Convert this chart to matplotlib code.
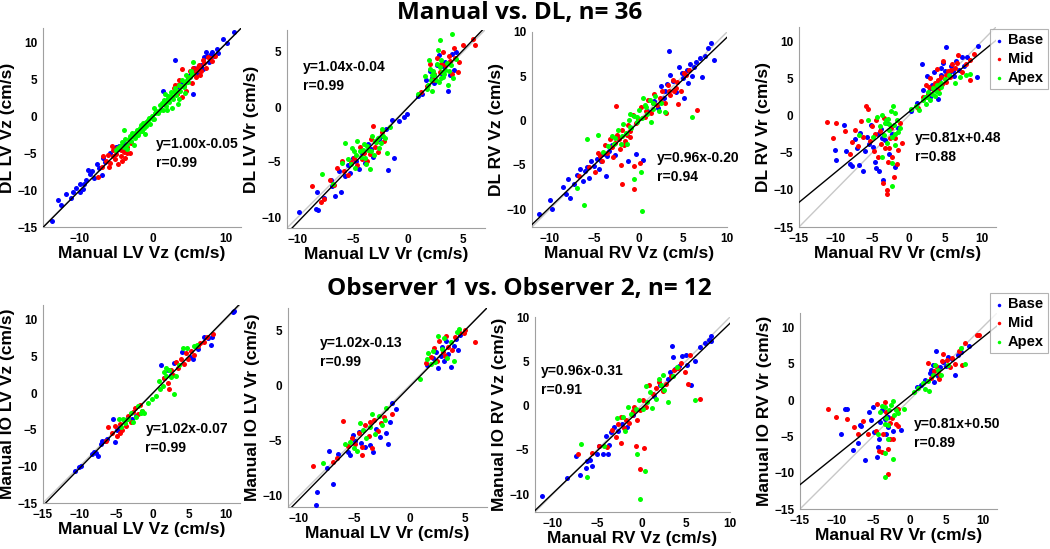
import matplotlib
matplotlib.use('Agg')
import matplotlib.pyplot as plt
import numpy as np

# ---- data (x = manual, y = DL / observer 2) ----
titles = ['Manual vs. DL, n= 36', 'Observer 1 vs. Observer 2, n= 12']
xlabels = ['Manual LV Vz (cm/s)', 'Manual LV Vr (cm/s)', 'Manual RV Vz (cm/s)', 'Manual RV Vr (cm/s)',
           'Manual LV Vz (cm/s)', 'Manual LV Vr (cm/s)', 'Manual RV Vz (cm/s)', 'Manual RV Vr (cm/s)']
ylabels = ['DL LV Vz (cm/s)', 'DL LV Vr (cm/s)', 'DL RV Vz (cm/s)', 'DL RV Vr (cm/s)',
           'Manual IO LV Vz (cm/s)', 'Manual IO LV Vr (cm/s)', 'Manual IO RV Vz (cm/s)', 'Manual IO RV Vr (cm/s)']
fit_slope = [1.00, 1.04, 0.96, 0.81, 1.02, 1.02, 0.96, 0.81]
fit_icpt = [-0.05, -0.04, -0.20, 0.48, -0.07, -0.13, -0.31, 0.50]
r_vals = [0.99, 0.99, 0.94, 0.88, 0.99, 0.99, 0.91, 0.89]
regions = ['Base', 'Mid', 'Apex']

lvvz_dl_base = [(-13.8,-14.2),(-12.9,-11.4),(-12.6,-12.0),(-11.2,-11.0),(-10.9,-10.2),(-10.5,-9.7),(-10.0,-9.1),(-9.6,-9.9),
    (-9.2,-8.6),(-8.9,-7.3),(-8.6,-7.8),(-8.3,-7.4),(-7.6,-6.4),(-7.3,-7.0),(-6.8,-5.6),(-6.5,-6.2),(-5.8,-4.9),(-5.1,-4.2),
    (-4.6,-4.0),(-4.1,-3.6),(-3.8,-4.3),(-2.5,-2.6),(1.4,3.5),(2.1,2.4),(3.0,7.7),(3.4,3.6),(4.0,4.6),(4.8,5.2),(5.4,3.0),
    (5.6,6.6),(6.1,5.8),(6.5,7.0),(6.9,8.0),(7.2,8.8),(7.6,7.4),(7.9,8.5),(8.3,8.2),(8.7,9.2),(8.9,8.6),(9.6,10.5),
    (10.1,10.0),(11.0,11.5),(-7.0,-8.0),(-9.9,-10.3),(-11.8,-10.5),(-8.0,-8.4),(-9.4,-9.2),(7.4,8.2),(8.1,8.8),(6.8,6.5),
    (5.0,5.6)]
lvvz_dl_mid = [(-7.5,-8.2),(-7.0,-6.9),(-6.4,-6.0),(-6.1,-5.2),(-5.8,-6.3),(-5.5,-4.6),(-5.2,-5.8),(-5.0,-5.1),(-4.8,-6.4),
    (-4.6,-4.4),(-4.4,-5.4),(-4.2,-6.0),(-4.0,-4.8),(-3.8,-5.6),(-3.5,-4.2),(-3.2,-5.0),(-3.0,-3.6),(-5.6,-4.0),(-6.8,-5.4),
    (2.6,2.6),(3.0,4.2),(3.3,3.1),(3.6,5.0),(3.9,2.7),(4.2,4.1),(4.5,3.4),(4.8,5.3),(5.0,6.1),(5.3,4.5),(5.5,6.6),(5.8,5.4),
    (6.0,6.3),(6.3,7.0),(6.5,6.1),(6.8,7.6),(7.2,6.6),(7.5,8.0),(8.0,7.5),(8.4,8.2),(2.9,3.8),(4.0,6.5),(6.4,5.6),
    (-6.0,-6.8),(-5.4,-5.3),(-4.9,-4.3),(-4.3,-4.6),(-3.6,-4.9),(3.4,4.3),(4.6,4.8),(5.6,5.9),(6.2,6.7),(7.0,7.3),(7.8,7.9)]
lvvz_dl_apex = [(-4.5,-4.0),(-4.2,-3.5),(-3.8,-3.0),(-3.5,-4.4),(-3.2,-2.6),(-3.0,-3.3),(-2.8,-2.2),(-2.5,-2.9),(-2.2,-1.8),
    (-2.0,-2.5),(-1.8,-1.5),(-1.5,-2.0),(-1.3,-0.9),(-1.0,-1.3),(-0.7,-0.5),(-0.4,-1.0),(-0.2,0.1),(0.2,-0.3),(0.4,0.8),
    (0.7,0.4),(1.0,1.5),(1.3,0.9),(1.5,2.2),(1.8,1.4),(2.0,2.8),(2.2,1.9),(2.5,3.3),(2.7,2.4),(3.0,3.9),(3.2,2.9),(3.5,4.3),
    (3.7,3.5),(4.0,5.0),(4.2,4.0),(4.5,5.6),(4.8,4.7),(5.2,6.2),(5.5,7.4),(2.6,1.1),(3.4,1.7),(-3.9,-1.9),(-5.0,-4.6),
    (-2.6,-3.9),(1.6,3.0),(0.1,1.2),(-1.1,-2.4),(-3.6,-3.8),(-3.3,-3.0),(-2.9,-2.7),(-2.4,-2.2),(-1.9,-2.1),(-1.6,-1.2),
    (-1.2,-1.6),(-0.9,-0.7),(-0.5,-0.2),(0.0,-0.4),(0.3,0.4),(0.9,0.9),(1.2,1.8),(1.7,1.9),(2.1,2.3),(2.4,2.8),(2.9,3.3),
    (3.3,3.4),(3.8,4.1),(4.3,4.6),(4.6,5.0),(5.0,5.4),(5.3,5.8),(-4.8,-4.3),(-4.0,-4.2),(1.9,0.9),(3.6,2.3),(4.4,3.2)]

lvvr_dl_base = [(-9.9,-9.5),(-8.4,-9.3),(-8.2,-9.4),(-8.3,-7.7),(-7.6,-8.3),(-7.0,-6.6),(-6.9,-7.2),(-6.6,-8.1),(-6.3,-5.8),
    (-6.1,-7.7),(-5.5,-5.3),(-5.3,-6.0),(-5.0,-4.6),(-4.5,-5.6),(-4.2,-4.2),(-3.9,-5.1),(-3.6,-3.4),(-3.2,-4.5),(-2.8,-3.0),
    (-2.4,-2.6),(-2.0,-2.0),(-1.8,-5.7),(-1.3,-4.6),(-1.5,-1.2),(-0.8,-1.3),(-0.4,-0.9),(-0.1,-0.6),(-2.6,-2.9),(0.9,1.0),
    (1.3,1.2),(1.6,2.5),(2.0,3.3),(2.4,2.2),(2.8,4.7),(3.1,3.0),(3.4,4.1),(3.8,2.9),(4.0,4.8),(4.2,3.4),(4.4,5.0),(3.6,1.5),
    (2.6,3.8),(-5.7,-6.3),(-4.7,-4.9),(-3.4,-3.8),(2.2,2.6),(3.3,3.6)]
lvvr_dl_mid = [(-8.7,-7.2),(-7.9,-8.6),(-7.6,-8.4),(-7.1,-6.6),(-6.7,-7.1),(-6.5,-5.5),(-6.0,-4.9),(-5.8,-5.8),(-5.5,-6.2),
    (-4.9,-4.6),(-4.6,-5.3),(-4.4,-3.6),(-4.0,-4.2),(-3.7,-4.9),(-3.4,-2.9),(-3.0,-3.6),(-2.7,-4.1),(-2.4,-2.3),(-2.2,-3.1),
    (-3.2,-1.7),(1.2,1.4),(1.7,1.9),(2.0,3.9),(2.3,2.5),(2.6,4.5),(2.9,3.2),(3.2,5.0),(3.4,3.8),(3.7,4.6),(4.0,3.0),
    (4.2,5.4),(4.6,4.1),(5.0,5.6),(5.9,6.2),(6.1,5.6),(4.5,3.2),(-5.2,-5.0),(-4.2,-4.7),(-3.5,-4.3),(-2.9,-3.2),(2.4,3.0),
    (3.0,3.9),(3.8,4.2),(4.3,4.5)]
lvvr_dl_apex = [(-7.8,-6.1),(-6.8,-7.0),(-6.0,-5.1),(-5.5,-4.7),(-5.1,-3.7),(-4.8,-5.5),(-4.6,-3.1),(-4.3,-4.5),(-4.0,-3.4),
    (-3.8,-5.2),(-3.6,-3.9),(-3.3,-2.6),(-3.1,-4.4),(-2.9,-3.2),(-2.6,-3.7),(-2.4,-2.0),(-2.1,-2.8),(-1.9,-4.2),(-1.6,-1.8),
    (-5.7,-3.3),(-4.9,-4.0),(-3.5,-5.6),(0.9,1.2),(1.5,2.8),(1.8,2.0),(2.0,3.5),(2.2,1.5),(2.4,2.9),(2.6,3.9),(2.8,2.3),
    (3.0,4.3),(3.2,2.7),(3.4,3.4),(3.6,2.0),(3.9,3.8),(4.1,2.6),(2.7,5.2),(2.9,6.1),(4.0,6.6),(4.4,4.4),(1.9,4.3),(3.3,3.0),
    (-4.4,-4.0),(-4.1,-3.9),(-3.7,-3.5),(-3.4,-4.0),(-3.0,-3.1),(-2.7,-2.8),(-2.3,-2.6),(-4.7,-4.4),(-5.2,-5.2),(-3.9,-4.6),
    (-2.5,-3.3),(1.7,1.6),(2.1,2.5),(2.3,3.3),(2.5,2.5),(2.9,3.6),(3.1,3.2),(3.5,4.0),(3.7,3.3),(2.2,2.9),(3.0,2.6)]

rvvz_dl_base = [(-11.2,-10.5),(-10.0,-9.0),(-9.8,-10.0),(-8.5,-7.5),(-8.2,-8.3),(-7.9,-6.6),(-7.7,-8.7),(-7.3,-7.2),(-6.9,-6.1),
    (-6.6,-5.5),(-6.3,-6.8),(-6.0,-5.7),(-5.6,-6.5),(-5.4,-4.6),(-5.0,-5.1),(-4.7,-4.3),(-4.4,-5.4),(-4.0,-3.8),(-3.7,-6.2),
    (-3.3,-3.4),(-3.0,-2.8),(-2.6,-3.9),(-2.3,-2.0),(-1.2,-4.6),(-0.3,-3.8),(0.5,-4.4),(1.0,1.1),(1.8,2.2),(2.2,1.4),
    (2.5,3.9),(2.9,2.6),(3.2,4.1),(3.5,7.9),(3.6,5.2),(3.9,4.5),(4.2,3.2),(4.6,6.1),(4.9,5.4),(5.2,2.6),(5.5,5.7),(5.8,6.4),
    (6.1,5.0),(6.5,6.6),(6.9,7.1),(7.2,4.9),(7.5,7.3),(7.8,8.2),(8.2,8.8),(8.5,6.8),(5.6,4.2),(-5.8,-5.2),(-4.2,-4.6),
    (-3.5,-4.0),(5.0,4.8),(6.3,6.0),(3.0,3.3)]
rvvz_dl_mid = [(-6.7,-6.3),(-5.6,-5.2),(-4.9,-5.8),(-4.5,-3.7),(-4.1,-4.5),(-3.8,-2.8),(-3.5,-3.6),(-3.2,-2.1),(-2.9,-4.1),
    (-2.6,-2.5),(-2.4,-1.6),(-2.1,-3.2),(-1.8,-1.0),(-1.5,-2.3),(-1.2,-0.5),(-0.9,-1.8),(-0.6,0.6),(-0.3,-0.3),(-2.0,-5.0),
    (-1.8,-7.2),(-0.5,-7.7),(-0.5,-5.1),(-1.6,-2.8),(0.2,-4.8),(0.3,1.5),(0.7,0.4),(1.1,2.3),(1.4,0.9),(1.8,3.0),(2.1,1.8),
    (2.4,2.6),(2.7,3.4),(3.0,2.0),(3.3,4.0),(3.6,2.9),(3.9,4.6),(4.2,3.7),(4.5,1.9),(4.8,3.3),(5.1,5.4),(5.4,5.1),(5.7,5.7),
    (6.6,1.2),(3.1,0.9),(-2.5,1.7),(-1.0,-1.2),(-3.0,-3.0),(-2.2,-2.1),(-1.3,-1.6),(0.0,0.2),(0.9,1.1),(1.6,2.0),(2.5,2.1),
    (3.5,3.4),(4.0,3.3),(4.4,4.4),(-4.3,-4.0)]
rvvz_dl_apex = [(-6.9,-7.6),(-6.1,-9.5),(-5.8,-2.1),(-4.0,-3.5),(-3.4,-2.9),(-3.0,-1.7),(-2.6,-2.0),(-2.3,-1.1),(-2.0,-2.6),
    (-1.7,-0.4),(-1.4,-1.4),(-1.1,0.1),(-0.8,-0.8),(-0.5,0.5),(-0.2,-0.2),(0.1,1.2),(0.4,0.3),(0.7,1.8),(1.0,0.8),(1.3,2.3),
    (1.6,1.3),(1.9,2.8),(2.3,1.1),(2.6,2.0),(3.0,1.0),(-1.3,-2.6),(-0.5,-6.6),(0.3,-5.8),(0.4,-10.2),(-0.9,0.8),(1.4,-0.1),
    (6.0,0.4),(-4.5,-1.6),(0.5,2.5),(-1.9,-1.7),(-1.0,-0.7),(-0.1,0.4),(0.9,1.5),(1.7,2.0),(-2.8,-2.6)]

rvvr_dl_base = [(-10.1,-4.6),(-9.9,-6.0),(-8.9,-1.2),(-8.5,-4.7),(-8.0,-6.5),(-7.8,-6.8),(-7.3,-3.1),(-7.0,-4.4),(-6.8,-6.6),
    (-6.6,-2.3),(-6.2,-7.4),(-6.0,-4.7),(-5.7,-2.9),(-5.4,-3.8),(-5.1,-1.2),(-4.8,-4.2),(-4.6,-6.2),(-4.4,-7.1),(-4.2,-2.5),
    (-4.0,-7.5),(-3.8,-1.8),(-3.5,-8.6),(-3.2,-3.2),(-2.9,-0.9),(-2.6,-5.1),(-2.3,-2.4),(-1.8,-6.9),(-1.5,-1.6),(0.4,0.6),
    (1.2,1.8),(1.8,7.0),(2.0,3.5),(2.6,5.4),(2.9,2.6),(3.2,4.2),(3.5,5.9),(3.8,3.6),(4.2,4.7),(4.5,6.4),(4.8,7.1),(5.2,9.3),
    (5.5,5.8),(5.9,6.7),(6.2,5.4),(6.5,7.4),(6.9,6.2),(7.3,8.0),(7.6,6.8),(8.0,7.9),(9.5,9.5),(9.4,5.2),(4.0,2.3),
    (3.0,3.8),(4.4,5.5),(5.0,6.0),(6.1,6.0),(-3.6,-3.0)]
rvvr_dl_mid = [(-11.2,-0.8),(-10.3,-3.0),(-9.9,-1.0),(-8.7,-2.0),(-8.0,-5.2),(-7.7,-3.5),(-7.3,-1.9),(-6.9,-4.1),(-6.5,-0.7),
    (-6.2,-2.8),(-5.8,1.4),(-5.6,0.9),(-5.3,-3.4),(-5.0,-1.3),(-4.7,-4.8),(-4.4,-0.6),(-4.2,-5.5),(-3.9,-2.1),(-3.7,-3.8),
    (-3.5,-9.0),(-3.3,-0.3),(-3.0,-10.5),(-3.0,-10.0),(-2.8,-6.2),(-2.6,-4.4),(-2.4,-1.6),(-2.2,-5.5),(-2.0,-8.2),(-1.8,-3.0),
    (-1.6,-6.5),(-1.4,-4.6),(-1.2,-0.9),(-0.9,-3.7),(1.3,1.0),(2.0,2.5),(2.4,4.2),(2.7,3.0),(3.0,5.1),(3.3,3.6),(3.6,4.5),
    (3.9,6.3),(4.2,3.8),(4.5,5.2),(4.8,7.4),(5.1,4.6),(5.4,6.1),(5.7,5.2),(6.0,7.0),(6.4,6.4),(6.8,8.2),(7.3,5.9),(7.9,7.0),
    (8.4,7.6),(8.5,4.9),(9.0,8.3),(2.8,3.9),(3.5,4.0),(4.0,4.9),(4.6,4.3),(5.2,5.5),(5.9,6.2),(6.6,7.2),(-4.6,-2.5),
    (-3.2,-4.4),(-2.5,-3.0)]
rvvr_dl_apex = [(-6.8,-2.6),(-5.5,-0.5),(-4.8,-2.8),(-4.3,-0.2),(-3.9,-1.3),(-3.6,0.1),(-3.4,-2.6),(-3.2,-1.0),(-3.0,-3.6),
    (-2.8,-0.4),(-2.6,-1.9),(-2.4,0.7),(-2.2,-2.9),(-2.0,-1.2),(-1.8,0.4),(-1.6,-0.6),(-1.4,-2.2),(-1.2,-1.6),(-2.1,1.3),
    (-3.6,-5.6),(-2.3,-9.5),(-2.2,-6.4),(-1.8,-3.9),(0.4,0.9),(1.0,1.4),(1.5,0.8),(2.0,2.1),(2.4,1.6),(2.7,3.2),(3.0,2.2),
    (3.3,3.7),(3.6,2.7),(3.9,4.2),(4.2,3.1),(4.5,3.9),(5.0,5.0),(5.6,5.5),(6.4,4.5),(7.0,5.2),(7.9,5.5),(8.4,5.7),(2.3,2.6),
    (2.6,2.6),(3.2,3.0),(3.8,3.3),(4.4,4.4),(-2.7,-1.1),(-3.1,-0.6),(-1.9,-2.4)]

lvvz_io_base = [(-10.6,-10.7),(-10.1,-10.1),(-9.8,-9.9),(-8.3,-8.3),(-8.0,-8.1),(-7.8,-8.2),(-7.5,-8.6),(-7.1,-6.9),(-6.9,-6.6),
    (-6.5,-6.5),(-6.2,-6.3),(-5.2,-6.7),(-4.9,-5.1),(-4.6,-4.8),(-5.4,-3.6),(-3.5,-3.5),(-2.8,-3.5),(-2.2,-3.2),(1.2,3.8),
    (1.6,2.1),(2.2,3.2),(3.0,4.1),(4.0,5.6),(5.1,4.9),(5.5,4.6),(6.2,6.0),(7.1,7.7),(7.6,7.5),(8.0,6.5),(8.2,7.6),
    (11.0,11.1),(11.2,11.2),(2.6,2.5)]
lvvz_io_mid = [(-6.3,-6.6),(-6.1,-4.7),(-5.5,-5.4),(-5.2,-4.5),(-4.8,-5.9),(-4.5,-4.2),(-4.2,-5.1),(-3.9,-3.7),(-3.6,-4.5),
    (-3.3,-3.1),(-3.0,-3.9),(-2.7,-2.6),(-2.4,-2.0),(-2.0,-2.8),(-1.7,-1.7),(-1.5,-2.4),(-4.5,-5.5),(1.6,2.1),(2.2,1.4),
    (2.5,3.1),(2.8,2.4),(3.2,4.2),(3.5,3.4),(3.9,4.7),(4.3,4.0),(4.6,5.4),(4.9,4.6),(5.3,5.7),(5.7,5.2),(6.2,6.4),(6.5,6.8),
    (7.0,7.0),(7.5,7.6),(8.3,8.1),(2.3,0.6)]
lvvz_io_apex = [(-4.3,-4.7),(-4.0,-3.6),(-3.8,-4.1),(-3.3,-3.6),(-3.0,-2.7),(-2.7,-3.9),(-2.3,-3.3),(-2.0,-1.8),(-1.6,-2.7),
    (-1.4,-2.5),(-1.1,-2.7),(-0.6,-1.3),(-0.1,-0.8),(0.5,-0.4),(0.9,1.6),(1.1,0.5),(1.4,1.0),(1.6,2.9),(1.9,2.3),(2.3,3.1),
    (2.6,2.2),(2.9,-0.2),(3.2,2.3),(3.6,3.8),(4.2,6.1),(4.8,6.2),(5.7,6.4),(6.1,6.6),(-4.6,-3.6),(1.8,3.4)]

lvvr_io_base = [(-8.5,-10.8),(-8.4,-9.6),(-7.5,-7.5),(-7.3,-5.9),(-6.9,-8.9),(-6.5,-6.2),(-5.6,-6.0),(-5.4,-6.3),(-5.1,-4.5),
    (-4.9,-5.0),(-4.6,-4.2),(-4.4,-5.2),(-4.0,-5.6),(-3.6,-5.4),(-3.3,-6.0),(-3.0,-3.9),(-2.7,-4.7),(-2.1,-4.3),(-2.0,-5.3),
    (-1.8,-3.3),(-1.2,-2.1),(-1.6,-1.6),(1.6,1.8),(2.1,2.5),(2.4,3.0),(2.6,1.6),(2.9,3.5),(3.1,2.2),(3.3,4.0),(3.5,2.8),
    (3.7,1.7),(4.0,3.6),(4.2,4.2),(4.4,3.2),(4.6,4.6),(2.8,2.7)]
lvvr_io_mid = [(-8.7,-7.3),(-6.9,-6.9),(-6.6,-6.6),(-6.0,-3.2),(-5.6,-5.5),(-5.2,-4.8),(-4.9,-5.3),(-4.6,-4.3),(-4.3,-5.6),
    (-4.0,-3.6),(-3.7,-4.6),(-3.4,-5.7),(-3.2,-3.1),(-2.9,-4.1),(-2.6,-3.4),(-2.3,-2.9),(-1.6,-2.6),(-3.6,-3.3),(-4.3,-6.3),
    (1.5,2.0),(1.9,2.6),(2.2,3.4),(2.5,2.2),(2.7,4.0),(3.0,3.0),(3.3,4.5),(3.5,3.5),(3.8,3.2),(4.1,4.4),(4.5,4.8),(4.9,4.7),
    (5.0,5.0),(5.9,3.9),(3.2,2.7)]
lvvr_io_apex = [(-7.8,-7.0),(-5.4,-5.1),(-5.0,-5.7),(-4.8,-5.9),(-4.5,-3.4),(-4.2,-4.0),(-3.9,-4.8),(-3.6,-3.8),(-3.4,-2.6),
    (-3.1,-4.4),(-2.8,-2.8),(-2.5,-3.6),(-2.2,-3.1),(-2.1,-2.0),(-5.8,-5.3),(0.9,0.6),(1.6,2.4),(1.9,1.9),(2.1,3.1),(2.3,2.1),
    (2.6,4.5),(2.9,3.3),(3.1,4.3),(3.4,2.5),(3.7,3.9),(4.0,2.2),(4.3,4.8),(4.5,5.1),(1.7,2.9)]

rvvz_io_base = [(-11.2,-10.2),(-8.4,-8.2),(-7.4,-5.7),(-6.9,-7.8),(-6.3,-7.0),(-6.1,-6.3),(-5.8,-6.1),(-5.6,-6.8),(-5.0,-5.4),
    (-4.8,-4.6),(-4.3,-5.5),(-4.0,-3.4),(-3.8,-5.5),(-3.7,-4.4),(-3.4,-3.0),(-3.1,-2.4),(-2.6,-2.9),(-2.2,-2.1),(-1.6,-2.4),
    (-0.9,-1.0),(1.4,1.1),(2.1,2.3),(3.0,3.0),(3.2,3.8),(3.5,6.7),(3.6,5.5),(3.8,4.1),(4.6,5.6),(5.0,5.7),(5.2,4.6),
    (5.6,2.3),(6.1,5.0),(6.6,6.6),(7.2,7.1),(7.6,7.4),(7.9,7.9),(7.8,7.3),(4.2,4.5)]
rvvz_io_mid = [(-7.2,-5.5),(-5.6,-5.3),(-4.8,-4.6),(-3.9,-4.7),(-3.3,-2.8),(-2.9,-3.5),(-2.6,-2.1),(-2.3,-1.3),(-2.0,-2.5),
    (-1.7,-1.6),(-1.4,-2.0),(-1.1,-1.0),(-0.8,-0.2),(-0.5,-1.6),(-0.2,-0.5),(0.2,0.6),(0.5,-0.1),(0.9,2.3),(1.3,1.3),
    (1.7,2.0),(2.0,2.7),(2.4,1.6),(2.8,2.4),(3.3,3.4),(3.7,4.0),(4.1,4.2),(4.5,4.8),(4.9,3.8),(5.3,2.4),(5.5,5.7),(6.6,0.8),
    (-2.3,-4.2),(-0.6,-4.5),(-0.1,-7.2),(0.3,-4.8),(-0.9,-0.6)]
rvvz_io_apex = [(-6.8,-4.3),(-6.1,-8.0),(-4.2,-4.6),(-2.7,-1.4),(-2.1,-1.3),(-1.9,-2.9),(-1.5,-0.1),(-1.2,-0.9),(-0.6,-0.4),
    (-0.3,0.6),(0.2,-0.4),(0.6,0.4),(1.0,1.5),(1.2,-0.3),(1.6,0.8),(2.0,3.0),(2.2,2.3),(2.6,1.8),(3.0,0.4),(3.6,3.4),
    (4.0,4.4),(2.4,3.5),(0.5,2.2),(-0.5,-5.5),(0.4,-7.4),(-0.2,-10.5),(6.0,0.6)]

rvvr_io_base = [(-9.4,-4.6),(-8.9,-1.2),(-8.6,-1.2),(-7.8,-6.9),(-7.0,-5.9),(-6.8,-3.4),(-6.6,-3.5),(-6.1,-8.2),(-5.5,-1.6),
    (-5.3,-2.8),(-5.0,-1.0),(-4.8,-4.4),(-4.5,-7.8),(-4.3,-6.4),(-4.2,-5.4),(-4.0,-3.0),(-3.7,-1.3),(-3.4,-2.6),(-3.2,-4.6),
    (-3.0,-3.7),(-2.9,-2.3),(-2.2,-4.2),(-1.1,-4.1),(1.0,1.8),(1.6,2.1),(2.2,2.8),(2.8,3.7),(3.0,4.2),(3.3,2.5),(3.6,6.8),
    (3.9,3.3),(4.2,4.5),(4.6,5.3),(5.0,4.7),(5.3,6.0),(5.8,5.6),(6.2,3.5),(6.6,6.2),(7.0,6.6),(8.2,7.4),(3.2,4.9)]
rvvr_io_mid = [(-11.2,-1.2),(-10.0,-2.3),(-8.5,-2.6),(-7.6,-3.7),(-7.1,-4.6),(-6.4,-2.9),(-5.7,-4.6),(-4.6,-4.3),(-4.4,-0.6),
    (-4.2,-7.0),(-3.8,-7.2),(-3.6,-4.7),(-3.4,-0.3),(-3.2,-1.6),(-3.0,-10.2),(-2.9,-6.8),(-2.6,-5.4),(-2.4,-2.5),(-2.2,-5.3),
    (-1.9,-3.3),(-1.6,-3.6),(-1.5,-1.2),(-2.7,-3.1),(2.6,5.1),(3.0,3.0),(3.3,4.0),(3.7,4.7),(4.0,3.6),(4.4,5.4),(4.6,6.3),
    (5.1,5.5),(5.5,4.5),(5.9,5.8),(6.3,5.0),(6.8,6.7),(7.2,4.9),(7.6,7.8),(9.5,9.0),(9.3,9.0),(4.1,2.9)]
rvvr_io_apex = [(-4.0,-1.6),(-3.7,-0.8),(-3.4,-1.0),(-3.2,-2.4),(-3.0,-3.4),(-2.8,-1.3),(-2.5,-0.7),(-2.3,-0.1),(-2.1,-2.1),
    (-1.8,-1.4),(-1.6,-1.8),(-0.7,-1.2),(-3.4,-3.3),(-4.3,-4.6),(-3.4,-10.6),(-3.3,-7.3),(-2.3,-8.1),(-2.9,-5.4),(0.6,1.1),
    (1.2,1.6),(1.9,2.3),(2.2,1.5),(2.7,1.2),(3.2,3.5),(3.5,4.8),(3.9,4.1),(4.3,3.4),(5.3,4.9),(7.0,7.2),(7.6,5.0),(2.5,2.7)]

panel_points = [
    (lvvz_dl_base, lvvz_dl_mid, lvvz_dl_apex), (lvvr_dl_base, lvvr_dl_mid, lvvr_dl_apex),
    (rvvz_dl_base, rvvz_dl_mid, rvvz_dl_apex), (rvvr_dl_base, rvvr_dl_mid, rvvr_dl_apex),
    (lvvz_io_base, lvvz_io_mid, lvvz_io_apex), (lvvr_io_base, lvvr_io_mid, lvvr_io_apex),
    (rvvz_io_base, rvvz_io_mid, rvvz_io_apex), (rvvr_io_base, rvvr_io_mid, rvvr_io_apex),
]

# axis limits / ticks per panel
lims = [(-15, 12), (-11, 7), (-12, 10), (-15, 12), (-15, 12), (-11, 7), (-12, 10), (-15, 12)]
xticks = [[-10, 0, 10], [-10, -5, 0, 5], [-10, -5, 0, 5, 10], [-15, -10, -5, 0, 5, 10],
          [-15, -10, -5, 0, 5, 10], [-10, -5, 0, 5], [-10, -5, 0, 5, 10], [-15, -10, -5, 0, 5, 10]]
yticks = [[-15, -10, -5, 0, 5, 10], [-10, -5, 0, 5], [-10, -5, 0, 5, 10], [-15, -10, -5, 0, 5, 10],
          [-15, -10, -5, 0, 5, 10], [-10, -5, 0, 5], [-10, -5, 0, 5, 10], [-15, -10, -5, 0, 5, 10]]

# layout in pixels: left, top, right, bottom
boxes = [(43, 28, 241, 227), (287, 30, 485, 228), (532, 32, 727, 227), (799, 27, 996, 227),
         (43, 305, 240, 503), (288, 308, 487, 507), (535, 317, 730, 512), (800, 313, 997, 509)]
legend_tops = {3: 29, 7: 293}
text_pos = [(0.57, 0.45), (0.08, 0.85), (0.64, 0.39), (0.59, 0.48),
            (0.52, 0.41), (0.16, 0.86), (0.03, 0.76), (0.58, 0.47)]
colors = ['#0000ff', '#ff0000', '#00ff00']

W, H = 1050, 549
fig = plt.figure(figsize=(W / 100, H / 100), dpi=100)
lab_font = dict(family='Liberation Sans', weight='bold')

for i in range(8):
    l, t, r, b = boxes[i]
    ax = fig.add_axes([l / W, 1 - b / H, (r - l) / W, (b - t) / H])
    lo, hi = lims[i]
    xs = np.array([lo, hi])
    ax.plot(xs, xs, color='#c8c8c8', lw=1.0, zorder=1)
    ax.plot(xs, fit_slope[i] * xs + fit_icpt[i], color='black', lw=1.0, zorder=5)
    for pts, c, name in zip(panel_points[i], colors, regions):
        arr = np.array(pts)
        ax.scatter(arr[:, 0], arr[:, 1], s=13, color=c, lw=0, zorder=3, label=name)
    ax.set_xlim(lo, hi)
    ax.set_ylim(lo, hi)
    ax.set_xticks(xticks[i])
    ax.set_yticks(yticks[i])
    for s in ['top', 'right']:
        ax.spines[s].set_visible(False)
    for s in ['left', 'bottom']:
        ax.spines[s].set_color('#a0a0a0')
        ax.spines[s].set_linewidth(0.8)
    ax.tick_params(length=0, pad=4, labelsize=8.5)
    for lab in ax.get_xticklabels() + ax.get_yticklabels():
        lab.set_fontweight('bold')
        lab.set_family('Liberation Sans')
    ax.set_xlabel(xlabels[i], fontsize=12.5, labelpad=1, **lab_font)
    ax.set_ylabel(ylabels[i], fontsize=12.5, labelpad=2, **lab_font)
    sign = '+' if fit_icpt[i] >= 0 else '-'
    txt = 'y=%.2fx%s%.2f\nr=%.2f' % (fit_slope[i], sign, abs(fit_icpt[i]), r_vals[i])
    ax.text(text_pos[i][0], text_pos[i][1], txt, transform=ax.transAxes, va='top', ha='left',
            fontsize=10, linespacing=1.45, zorder=6, **lab_font)
    if i in legend_tops:
        leg = ax.legend(loc='upper right', bbox_to_anchor=(1048 / W, 1 - legend_tops[i] / H),
                        bbox_transform=fig.transFigure, frameon=True, fancybox=False,
                        handletextpad=0.3, borderpad=0.3, borderaxespad=0, labelspacing=0.32,
                        handlelength=0.6, markerscale=0.7,
                        prop={'family': 'Liberation Sans', 'weight': 'bold', 'size': 10.5})
        leg.get_frame().set_edgecolor('#a0a0a0')
        leg.get_frame().set_linewidth(0.8)

fig.text(0.495, 1 - 13 / H, titles[0], ha='center', va='center', fontsize=17.5,
         family='Open Sans', weight='bold')
fig.text(0.495, 1 - 289 / H, titles[1], ha='center', va='center', fontsize=17.5,
         family='Open Sans', weight='bold')

fig.savefig('out.png', dpi=100)
